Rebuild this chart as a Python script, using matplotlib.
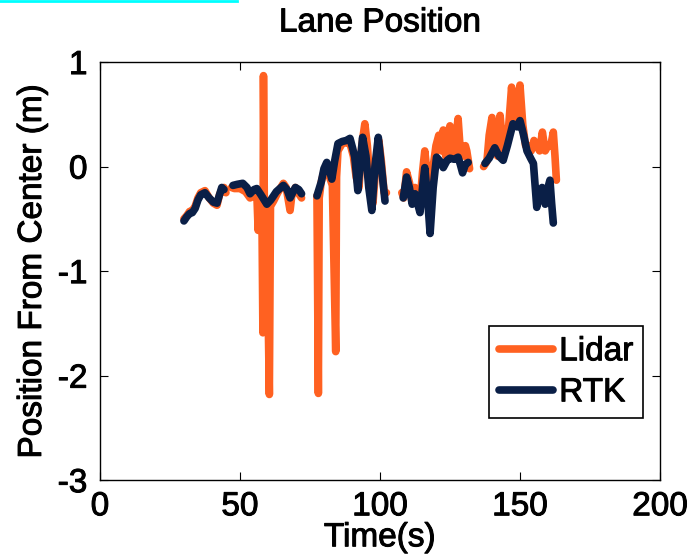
import numpy as np
import matplotlib
matplotlib.use("Agg")
import matplotlib.pyplot as plt
import matplotlib.patheffects as pe
from matplotlib.lines import Line2D

nan = np.nan

# RTK lane position (segments separated by NaN)
rtk_t = [30, 31, 32, 33, 34, 35, 36, 37.5, 39, 40.5, 41.8, 42.7, 43.5, 44.3, nan,
         47.5, 49, 51, 52.5, 53.6, 55, 56, 57.5, 59.6, 61, 63, 65.5, 66.8, 67.9, 69, 69.8, 71, 72, nan,
         77.5, 79, 80, 81, 82, 82.8, 83.8, 85, 86.5, 88, 89.3, 90.2, 91, 92.1, 93, 93.8, 95, 96, 97.1,
         98.2, 99.4, 100.5, 101.8, nan,
         108.3, 109.5, 110.5, 111.5, 112.5, 113.4, 114.3, 115.2, 116, 117, 117.9, 119, 120.2, 121.5,
         122.6, 124, 125, 126.5, 127.9, 128.7, 129.5, 130.5, 131.5, nan,
         137.5, 139, 141, 142.5, 144, 145.5, 147.5, 149, 150, 151.3, 152.5, 153.8, 154.8, 156, 157,
         157.9, 159, 160, 160.7, 161.3, 161.9]
rtk_y = [-0.52, -0.48, -0.45, -0.44, -0.40, -0.32, -0.27, -0.25, -0.30, -0.34, -0.35, -0.27, -0.20, -0.22, nan,
         -0.18, -0.17, -0.16, -0.20, -0.26, -0.22, -0.21, -0.27, -0.36, -0.32, -0.24, -0.18, -0.22, -0.30,
         -0.24, -0.20, -0.22, -0.26, nan,
         -0.28, -0.15, -0.02, 0.04, -0.04, -0.12, 0.05, 0.22, 0.24, 0.25, 0.27, 0.18, 0.09, -0.23, 0.05,
         0.28, 0.10, -0.20, -0.42, 0.00, 0.28, 0.00, -0.33, nan,
         -0.30, -0.10, -0.20, -0.36, -0.26, -0.35, -0.44, -0.20, -0.01, -0.30, -0.64, -0.20, 0.09, 0.05,
         -0.01, 0.06, 0.08, 0.07, 0.09, 0.02, -0.06, 0.02, 0.04, nan,
         0.03, 0.08, 0.18, 0.10, 0.06, 0.20, 0.41, 0.38, 0.44, 0.30, 0.15, 0.08, 0.03, -0.39, -0.25,
         -0.20, -0.36, -0.20, -0.13, -0.35, -0.54]

# Lidar lane position
lidar_t = [30, 31, 32, 33, 34, 35, 36, 37.5, 39, 40.5, 41.8, 42.7, 43.5, 44.3, 45, nan,
           47, 48, 50, 52, 53.6, 55, 56, 56.5, 56.8, 57.8, 58.2, 58.4, 58.7, 59.5, 60.5, 60.9, 62, 63.5,
           65.5, 66.5, 67.9, 68.5, 69.8, 71, 72, nan,
           77.5, 78, 78.3, 79, 80, 81, 82, 83, 84.2, 84.5, 85, 86.5, 88, 89.3, 90.5, 91.5, 92.5, 93.5,
           94.6, 95.5, 96.5, 97.5, 98.5, 99.6, 100.5, 101.5, 102.3, nan,
           107.8, 108.5, 109.5, 110.5, 111.5, 112.5, 113.5, 114.3, 115.2, 116, 117, 117.9, 119, 120, 121,
           122, 122.6, 123.5, 124.2, 125, 126, 126.8, 127.9, 128.7, 129.5, 130.5, 131, 132, nan,
           137, 138.2, 139, 140, 141, 142, 142.9, 144, 145, 146, 147, 148, 149, 150, 151, 152, 153, 154,
           155, 156, 157, 158, 159, 160, 161, 161.9, 162.5, 163]
lidar_y = [-0.50, -0.47, -0.43, -0.42, -0.38, -0.30, -0.25, -0.23, -0.30, -0.35, -0.37, -0.27, -0.22, -0.20, -0.25, nan,
           -0.20, -0.21, -0.21, -0.24, -0.30, -0.28, -0.24, -0.61, -0.25, -0.30, -1.59, 0.87, -0.35, -0.40,
           -2.18, -0.38, -0.33, -0.25, -0.16, -0.20, -0.42, -0.28, -0.20, -0.26, -0.30, nan,
           -0.28, -2.17, -0.30, -0.15, -0.05, 0.00, -0.10, -0.18, -1.77, -0.10, 0.15, 0.22, 0.23, 0.22,
           0.10, -0.10, -0.20, 0.20, 0.41, 0.20, -0.20, -0.35, 0.00, 0.25, 0.05, -0.25, -0.25, nan,
           -0.25, -0.30, -0.05, -0.15, -0.30, -0.20, -0.30, -0.35, -0.05, 0.15, -0.10, -0.50, 0.00, 0.20,
           0.30, 0.15, 0.35, 0.10, 0.30, 0.39, 0.10, 0.20, 0.46, 0.15, 0.10, 0.20, 0.15, -0.02, nan,
           0.00, 0.05, 0.30, 0.47, 0.20, 0.10, 0.49, 0.15, 0.20, 0.40, 0.76, 0.40, 0.50, 0.78, 0.40, 0.20,
           0.20, 0.15, 0.25, 0.20, 0.15, 0.33, 0.15, 0.20, 0.20, 0.33, 0.10, -0.13]

plt.rcParams['font.family'] = ['Liberation Sans', 'DejaVu Sans']
plt.rcParams['axes.unicode_minus'] = False

fig = plt.figure(figsize=(6.94, 5.59), dpi=100)
ax = fig.add_axes([0.144, 0.141, 0.807, 0.748])

ax.plot(lidar_t, lidar_y, color='#ff6121', lw=5.5, solid_capstyle='round', label='Lidar')
ax.plot(rtk_t, rtk_y, color='#0a1f47', lw=5.5, solid_capstyle='round', label='RTK')

ax.set_xlim(0, 200)
ax.set_ylim(-3, 1)
ax.set_xticks([0, 50, 100, 150, 200])
ax.set_yticks([-3, -2, -1, 0, 1])
ax.tick_params(direction='in', top=True, right=True, labelsize=24, length=6)
ax.tick_params(axis='y', pad=9)
ax.tick_params(axis='x', pad=8)
for s in ax.spines.values():
    s.set_linewidth(1.0)

ax.set_title('Lane Position', fontsize=24, pad=22)
ax.set_xlabel('Time(s)', fontsize=24, labelpad=0)
ax.set_ylabel('Position From Center (m)', fontsize=24, labelpad=7)

leg = ax.legend(loc='lower right', fontsize=24, fancybox=False, framealpha=1,
                edgecolor='black', handlelength=1.6, handletextpad=0.2, borderpad=0.3,
                labelspacing=0.3, borderaxespad=0, bbox_to_anchor=(0.970, 0.148))
leg.get_frame().set_linewidth(1.2)

# slightly heavier text, like the original export
bold = [pe.withStroke(linewidth=0.7, foreground='black')]
texts = [ax.title, ax.xaxis.label, ax.yaxis.label] + ax.get_xticklabels() + ax.get_yticklabels() + leg.get_texts()
for t in texts:
    t.set_path_effects(bold)

# cyan strip at top-left of the original image
fig.add_artist(Line2D([0, 237 / 694], [1 - 1 / 559, 1 - 1 / 559],
                      transform=fig.transFigure, color='#00ffff', lw=2))

fig.savefig('out.png', dpi=100)
